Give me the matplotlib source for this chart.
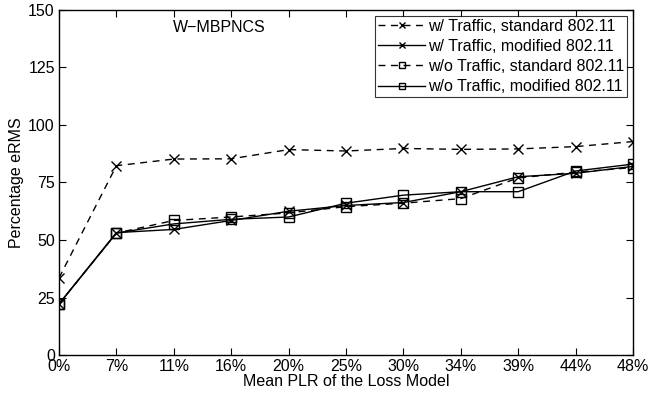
import matplotlib
matplotlib.use("Agg")
import matplotlib.pyplot as plt

plt.rcParams['font.family'] = ['Liberation Sans', 'DejaVu Sans']

x_labels = ["0%", "7%", "11%", "16%", "20%", "25%", "30%", "34%", "39%", "44%", "48%"]
w_traffic_std = [33.5, 82.3, 85.2, 85.3, 89.3, 88.7, 89.8, 89.4, 89.6, 90.6, 92.8]
w_traffic_mod = [22.2, 53.2, 54.6, 58.5, 62.5, 65.0, 66.3, 71.0, 77.5, 79.0, 82.0]
wo_traffic_std = [22.2, 53.0, 58.5, 60.0, 61.8, 64.5, 66.0, 68.0, 77.0, 79.5, 81.5]
wo_traffic_mod = [22.2, 53.0, 57.0, 59.0, 60.0, 66.0, 69.5, 71.0, 71.0, 80.0, 83.0]
labels = ["w/ Traffic, standard 802.11", "w/ Traffic, modified 802.11",
          "w/o Traffic, standard 802.11", "w/o Traffic, modified 802.11"]

fs = 11.5
fig = plt.figure(figsize=(6.48, 3.94), dpi=100)
ax = fig.add_axes([59/648, 1-355/394, (633-59)/648, (355-10)/394])

xs = list(range(len(x_labels)))
dash = (0, (5, 4))
ax.plot(xs, w_traffic_std, color='k', linestyle=dash, lw=1.0, marker='x', ms=7, mew=1.0, label=labels[0])
ax.plot(xs, w_traffic_mod, color='k', linestyle='-', lw=1.0, marker='x', ms=7, mew=1.0, label=labels[1])
ax.plot(xs, wo_traffic_std, color='k', linestyle=dash, lw=1.0, marker='s', ms=7, mew=1.0, mfc='none', label=labels[2])
ax.plot(xs, wo_traffic_mod, color='k', linestyle='-', lw=1.0, marker='s', ms=7, mew=1.0, mfc='none', label=labels[3])

ax.set_xlim(0, len(x_labels)-1)
ax.set_ylim(0, 150)
ax.set_xticks(xs)
ax.set_xticklabels(x_labels)
ax.set_yticks([0, 25, 50, 75, 100, 125, 150])
ax.tick_params(direction='in', top=True, right=True, labelsize=fs, length=5, width=0.8)
ax.tick_params(axis='y', pad=3)
ax.tick_params(axis='x', pad=3)
for s in ax.spines.values():
    s.set_linewidth(1.0)

ax.set_xlabel("Mean PLR of the Loss Model", fontsize=fs, labelpad=0)
ax.set_ylabel("Percentage eRMS", fontsize=fs, labelpad=3)
ax.text(0.28, 0.948, "W\u2212MBPNCS", transform=ax.transAxes, fontsize=fs, ha='center', va='center')

leg = ax.legend(loc='upper right', fontsize=fs, frameon=True, fancybox=False, edgecolor='k',
                borderpad=0.2, labelspacing=0.32, handlelength=2.9, handletextpad=0.2,
                borderaxespad=0.35)
leg.get_frame().set_linewidth(0.8)
for h in leg.legend_handles:
    h.set_markersize(5)

fig.savefig("out.png", dpi=100)
